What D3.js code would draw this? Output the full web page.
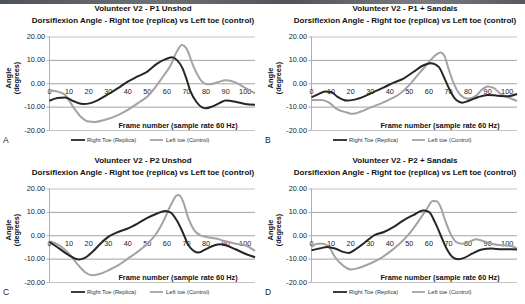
<!DOCTYPE html>
<html><head><meta charset="utf-8">
<script src="https://cdn.jsdelivr.net/npm/d3@7"></script>
<style>body{margin:0;background:#fff} svg{display:block} text{font-family:"Liberation Sans",Arial,Helvetica,sans-serif}</style>
</head><body><svg id="c" width="525" height="304"></svg>
<script>
const panelTitles = ["Volunteer V2 - P1 Unshod", "Volunteer V2 - P1 + Sandals", "Volunteer V2 - P2 Unshod", "Volunteer V2 - P2 + Sandals"];
const subtitle = "Dorsiflexion Angle - Right toe (replica) vs Left toe (control)";
const panelLetters = ["A", "B", "C", "D"];
const seriesNames = ["Right Toe (Replica)", "Left toe (Control)"];
const xAxisTitle = "Frame number (sample rate 60 Hz)";
const yAxisTitle = ["Angle", "(degrees)"];
const yTicks = [20, 10, 0, -10, -20];
const xTicks = [0, 10, 20, 30, 40, 50, 60, 70, 80, 90, 100];

// [frame, angle]
const rightA = [[0,-7.5],[4,-6.3],[8,-6.1],[12,-7.6],[17,-8.9],[21,-8.5],[25,-7.1],[30,-4.7],[35,-2.1],[40,0.7],[45,2.9],[50,5],[55,8.4],[59,10.2],[62.5,11.1],[65,10],[68,6.4],[70,1.8],[72,-3.4],[75,-7.9],[78,-10.3],[80,-10.7],[83,-10],[87,-8.4],[90,-7.4],[95,-7.9],[100,-8.9],[105,-9.2]];
const leftA = [[0,-3],[5,-3.8],[8,-5],[12,-10],[16,-14.3],[20,-16.4],[23,-16.6],[28,-15.7],[35,-13.6],[40,-11.4],[45,-8.6],[50,-5.7],[55,-0.7],[58,2.9],[62,7.8],[65,13.5],[67.6,16.4],[70,14.8],[73.6,7.1],[77,1.7],[80,-0.3],[82,-0.4],[86,0.4],[90,1.3],[95,0.4],[100,-2],[105,-4.3]];
const rightB = [[0,-6],[3,-4.9],[7,-3.5],[10,-3.7],[13,-5.6],[18,-7.4],[22,-7],[27,-5.6],[32,-3.7],[37,-1.8],[42,0.3],[47,2],[52,4.8],[57,7.6],[61,8.6],[65,7],[68,2],[71,-3.5],[74,-7.2],[77,-8.3],[80,-7.6],[85,-6],[90,-5],[95,-5.3],[100,-5.6],[105,-4.6]];
const leftB = [[0,-7.2],[5,-7.2],[9,-8.3],[13,-11.1],[18,-12.5],[21,-13.1],[25,-12.2],[30,-10.4],[35,-8.8],[40,-6.9],[45,-4.6],[50,-0.7],[55,4.2],[60,9],[63,11.8],[66,13.2],[68,11.6],[70,6.2],[73,-0.7],[76,-4.9],[80,-6.6],[84,-5.4],[87,-2.8],[90,-1.4],[93,-2],[97,-4.8],[101,-6.2],[105,-7.6]];
const rightC = [[0,-2.9],[5,-5.7],[10,-8.6],[15,-10.4],[18,-9.7],[22,-7.1],[26,-3.6],[30,-0.7],[35,1.4],[40,2.9],[45,5],[50,7.4],[55,9.3],[59,10.4],[62,9.7],[65,6.4],[68,1.4],[71,-4.3],[74,-6.9],[76,-7.4],[79,-6.4],[83,-4.7],[87,-3.9],[90,-4.3],[95,-6],[100,-7.9],[105,-9.4]];
const leftC = [[0,-2.6],[5,-4.3],[10,-7.9],[14,-12.1],[18,-15.7],[22,-17.1],[26,-16.5],[30,-15],[35,-12.9],[40,-10],[45,-7.1],[50,-3.6],[54,0],[58,5.7],[62,12.9],[65,17],[66,17.2],[68,15],[71,7.1],[74,2.1],[77,0],[80,-0.7],[85,-1.4],[90,-2.6],[95,-3.6],[100,-4.3],[105,-6.7]];
const rightD = [[0,-6.4],[4,-5.7],[8,-5],[12,-5.7],[16,-7.1],[19,-7.6],[23,-5.7],[28,-2.6],[32,0],[37,1.4],[42,3.6],[47,6.4],[52,8.6],[57,10.6],[60,10],[63,5.7],[66,0],[69,-5.7],[72,-9.3],[75,-10.3],[78,-9.7],[82,-7.9],[87,-6.1],[92,-5.7],[97,-6],[102,-6],[105,-6.1]];
const leftD = [[0,-5],[3,-3.6],[6,-3.6],[9,-5],[12,-9.3],[16,-12.9],[20,-14.6],[24,-14],[30,-12.1],[35,-10],[40,-7.1],[45,-3.6],[50,0.7],[55,6.4],[59,11.4],[62,14.6],[64,14.5],[66,12],[68,7.1],[71,0.7],[74,-2.9],[77,-3.6],[80,-3.1],[84,-1.7],[88,-2.6],[92,-3.6],[97,-4.3],[102,-4.6],[105,-5.7]];

const rightSeries = [rightA, rightB, rightC, rightD];
const leftSeries = [leftA, leftB, leftC, leftD];
const panelOrigins = [[0,0],[262,0],[0,152],[262,152]];

const darkColor = "#262626", lightColor = "#a3a3a3";
const svg = d3.select("#c");

// top strip
const defs = svg.append("defs");
const grad = defs.append("linearGradient").attr("id","topbar").attr("x1","0").attr("x2","1");
[["0%","#4d5258"],["30%","#6e7276"],["55%","#4f5459"],["80%","#7a7d80"],["100%","#55595e"]].forEach(s=>grad.append("stop").attr("offset",s[0]).attr("stop-color",s[1]));
svg.append("rect").attr("x",0).attr("y",0).attr("width",525).attr("height",4).attr("fill","url(#topbar)");

const x = d3.scaleLinear().domain([0,105]).range([49.5,255]);
const y = d3.scaleLinear().domain([-20,20]).range([130,36.5]);
const line = d3.line().x(d=>x(d[0])).y(d=>y(d[1])).curve(d3.curveMonotoneX);

panelOrigins.forEach((o,i)=>{
  const g = svg.append("g").attr("transform",`translate(${o[0]},${o[1]})`);
  g.append("text").attr("x",143).attr("y",8).attr("dy","0.35em").attr("text-anchor","middle")
    .attr("font-size",8).attr("font-weight","bold").attr("fill","#111").text(panelTitles[i]);
  g.append("text").attr("x",143).attr("y",20.5).attr("dy","0.35em").attr("text-anchor","middle")
    .attr("font-size",8).attr("font-weight","bold").attr("fill","#111").text(subtitle);

  // gridlines
  g.selectAll("line.grid").data(yTicks).join("line").attr("class","grid")
    .attr("x1",x(0)).attr("x2",x(105)).attr("y1",d=>y(d)+0.5).attr("y2",d=>y(d)+0.5)
    .attr("stroke",d=>(d===20||d===-20)?"#c4c4c4":"#a4a4a4").attr("stroke-width",1);
  // y axis line
  g.append("line").attr("x1",x(0)).attr("x2",x(0)).attr("y1",y(20)).attr("y2",y(-20)).attr("stroke","#b0b0b0");
  g.selectAll("line.yt").data(yTicks).join("line").attr("class","yt")
    .attr("x1",x(0)-3).attr("x2",x(0)).attr("y1",d=>y(d)+0.5).attr("y2",d=>y(d)+0.5).attr("stroke","#b0b0b0");
  g.selectAll("text.yl").data(yTicks).join("text").attr("class","yl")
    .attr("x",45).attr("y",d=>y(d)).attr("dy","0.35em").attr("text-anchor","end")
    .attr("font-size",7.3).attr("fill","#222").text(d=>d.toFixed(2));
  g.selectAll("text.xl").data(xTicks).join("text").attr("class","xl")
    .attr("x",d=>x(d)).attr("y",y(0)+8.5).attr("dy","0.35em").attr("text-anchor","middle")
    .attr("font-size",7.3).attr("fill","#222").text(d=>d);

  // y axis title
  g.append("text").attr("transform",`translate(8.5,78) rotate(-90)`).attr("dy","0.35em").attr("text-anchor","middle")
    .attr("font-size",7.5).attr("font-weight","bold").attr("fill","#111").text(yAxisTitle[0]);
  g.append("text").attr("transform",`translate(16.5,78) rotate(-90)`).attr("dy","0.35em").attr("text-anchor","middle")
    .attr("font-size",7.2).attr("font-weight","bold").attr("fill","#111").text(yAxisTitle[1]);

  g.append("text").attr("x",178).attr("y",125).attr("dy","0.35em").attr("text-anchor","middle")
    .attr("font-size",7.3).attr("font-weight","bold").attr("fill","#111").text(xAxisTitle);

  g.append("path").datum(leftSeries[i]).attr("d",line).attr("fill","none").attr("stroke",lightColor).attr("stroke-width",2);
  g.append("path").datum(rightSeries[i]).attr("d",line).attr("fill","none").attr("stroke",darkColor).attr("stroke-width",2);

  // legend
  const leg = [[71,85,87,darkColor],[150,163,166,lightColor]];
  leg.forEach((l,k)=>{
    g.append("line").attr("x1",l[0]).attr("x2",l[1]).attr("y1",140).attr("y2",140).attr("stroke",l[3]).attr("stroke-width",1.8);
    g.append("text").attr("x",l[2]).attr("y",140).attr("dy","0.35em").attr("font-size",5.8).attr("fill","#333").text(seriesNames[k]);
  });
  g.append("text").attr("x",3).attr("y",140).attr("dy","0.35em").attr("font-size",8.5).attr("fill","#222").text(panelLetters[i]);
});
</script></body></html>
